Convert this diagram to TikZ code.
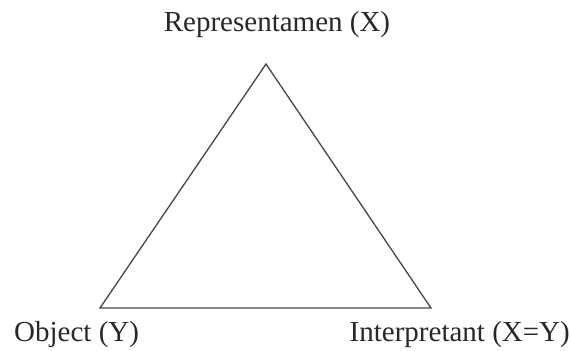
\documentclass[tikz,border=0pt]{standalone}
\usepackage{fontspec}
\setmainfont{Liberation Serif}
\usepackage{tikz}
\definecolor{edge}{RGB}{70, 70, 70}
\definecolor{ink}{RGB}{40, 40, 40}

\begin{document}
\begin{tikzpicture}[x=1pt, y=1pt]

  \useasboundingbox (0, 0) rectangle (571, 351);

  \coordinate (rep) at (266, 287);
  \coordinate (obj) at (100, 43);
  \coordinate (int) at (431, 43);

  \draw[edge, line width=1.3, line join=miter] (rep) -- (obj) -- (int) -- cycle;

  \node[ink, anchor=base, inner sep=0, font=\fontsize{29}{34}\selectfont] (replabel) at (277, 319) {Representamen (X)};
  \node[ink, anchor=base west, inner sep=0, font=\fontsize{29}{34}\selectfont] (objlabel) at (14, 9) {Object (Y)};
  \node[ink, anchor=base east, inner sep=0, font=\fontsize{29}{34}\selectfont] (intlabel) at (570, 9) {Interpretant (X=Y)};

\end{tikzpicture}
\end{document}
